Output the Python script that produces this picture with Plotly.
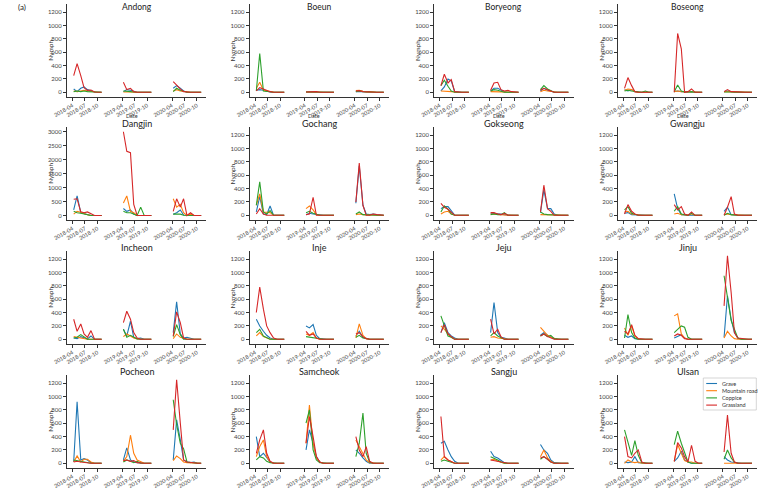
import plotly.graph_objects as go

# ---------------- data ----------------
sites = ["Andong", "Boeun", "Boryeong", "Boseong",
         "Dangjin", "Gochang", "Gokseong", "Gwangju",
         "Incheon", "Inje", "Jeju", "Jinju",
         "Pocheon", "Samcheok", "Sangju", "Ulsan"]
years = ["2018", "2019", "2020"]
sample_days = ["04-10", "05-05", "06-01", "06-25", "07-20", "08-15", "09-10", "10-05", "11-01"]
habitats = ["Grave", "Mountain road", "Coppice", "Grassland"]
tick_months = ["04", "07", "10"]
tick_labels = [f"{y}-{m}" for y in years for m in tick_months]

andong_grave = [50, 10, 60, 80, 40, 20, 5, 0, 0, 10, 40, 30, 10, 0, 0, 0, 0, 0, 60, 100, 60, 20, 5, 0, 0, 0, 0]
andong_mroad = [20, 10, 20, 30, 20, 10, 5, 0, 0, 5, 10, 5, 0, 0, 0, 0, 0, 0, 20, 40, 20, 10, 0, 0, 0, 0, 0]
andong_coppice = [10, 20, 10, 20, 10, 5, 0, 0, 0, 20, 20, 10, 5, 0, 0, 0, 0, 0, 10, 60, 30, 10, 0, 0, 0, 0, 0]
andong_grass = [250, 430, 250, 70, 30, 35, 5, 0, 0, 150, 40, 60, 10, 0, 0, 0, 0, 0, 160, 100, 50, 10, 0, 0, 0, 0, 0]

boeun_grave = [30, 40, 30, 15, 5, 0, 0, 0, 0, 5, 10, 10, 5, 5, 0, 0, 0, 0, 10, 15, 10, 5, 5, 0, 0, 0, 0]
boeun_mroad = [60, 150, 30, 20, 10, 5, 0, 0, 0, 5, 5, 10, 15, 5, 0, 0, 0, 0, 25, 30, 15, 5, 10, 0, 0, 0, 0]
boeun_coppice = [20, 580, 20, 10, 5, 0, 0, 0, 0, 5, 5, 5, 5, 0, 0, 0, 0, 0, 10, 20, 10, 5, 0, 0, 0, 0, 0]
boeun_grass = [20, 70, 50, 30, 10, 0, 0, 0, 0, 5, 10, 5, 10, 0, 0, 0, 0, 0, 20, 25, 10, 5, 5, 0, 0, 0, 0]

boryeong_grave = [20, 80, 200, 170, 10, 0, 0, 0, 0, 20, 60, 60, 30, 10, 0, 0, 0, 0, 20, 60, 30, 10, 0, 0, 0, 0, 0]
boryeong_mroad = [20, 20, 20, 10, 5, 0, 0, 0, 0, 10, 10, 10, 5, 0, 0, 0, 0, 0, 10, 30, 20, 10, 0, 0, 0, 0, 0]
boryeong_coppice = [100, 180, 90, 20, 0, 0, 0, 0, 0, 20, 40, 30, 10, 0, 0, 0, 0, 0, 40, 100, 50, 20, 0, 0, 0, 0, 0]
boryeong_grass = [100, 270, 140, 190, 10, 0, 0, 0, 0, 30, 140, 150, 40, 20, 30, 10, 0, 0, 30, 60, 40, 20, 0, 0, 0, 0, 0]

boseong_grave = [40, 20, 40, 10, 5, 5, 10, 0, 0, 10, 20, 10, 5, 0, 0, 0, 0, 0, 10, 20, 10, 5, 0, 0, 0, 0, 0]
boseong_mroad = [30, 50, 40, 10, 0, 0, 5, 0, 0, 10, 20, 10, 10, 5, 5, 0, 0, 0, 10, 10, 10, 5, 5, 5, 0, 0, 0]
boseong_coppice = [20, 30, 20, 10, 0, 0, 20, 0, 0, 10, 110, 20, 5, 5, 10, 0, 0, 0, 5, 10, 5, 0, 0, 0, 0, 0, 0]
boseong_grass = [60, 220, 100, 10, 0, 0, 10, 0, 0, 0, 880, 650, 0, 10, 50, 0, 0, 0, 10, 40, 10, 5, 0, 0, 0, 0, 0]

dangjin_grave = [200, 700, 100, 60, 20, 0, 0, 0, 0, 250, 150, 200, 50, 0, 0, 0, 0, 0, 50, 100, 200, 20, 10, 0, 0, 0, 0]
dangjin_mroad = [50, 150, 120, 70, 30, 0, 0, 0, 0, 450, 700, 150, 100, 0, 0, 0, 0, 0, 600, 300, 400, 100, 0, 50, 0, 0, 0]
dangjin_coppice = [150, 100, 80, 50, 20, 0, 0, 0, 0, 150, 100, 100, 50, 0, 300, 0, 0, 0, 50, 60, 50, 10, 0, 0, 0, 0, 0]
dangjin_grass = [580, 600, 130, 100, 130, 50, 0, 0, 0, 3000, 2300, 2250, 400, 0, 0, 0, 0, 0, 150, 600, 300, 600, 0, 100, 0, 0, 0]

gochang_grave = [50, 280, 20, 10, 140, 0, 0, 0, 0, 10, 30, 20, 10, 0, 0, 0, 0, 0, 180, 740, 150, 20, 10, 20, 10, 0, 0]
gochang_mroad = [150, 320, 50, 50, 40, 0, 0, 0, 0, 100, 140, 80, 10, 0, 0, 0, 0, 0, 10, 20, 10, 5, 0, 0, 0, 0, 0]
gochang_coppice = [150, 500, 50, 20, 70, 0, 0, 0, 0, 40, 60, 30, 10, 0, 0, 0, 0, 0, 20, 50, 10, 5, 0, 0, 0, 0, 0]
gochang_grass = [20, 100, 20, 0, 0, 0, 0, 0, 0, 10, 20, 270, 0, 0, 0, 0, 0, 0, 200, 780, 150, 0, 0, 20, 10, 0, 0]

gokseong_grave = [100, 130, 130, 60, 5, 0, 0, 0, 0, 30, 30, 20, 20, 10, 0, 0, 0, 0, 40, 380, 100, 100, 20, 0, 0, 0, 0]
gokseong_mroad = [20, 50, 60, 20, 5, 0, 0, 0, 0, 20, 20, 10, 10, 5, 0, 0, 0, 0, 10, 10, 5, 5, 0, 0, 0, 0, 0]
gokseong_coppice = [50, 140, 90, 20, 0, 0, 0, 0, 0, 10, 20, 10, 10, 40, 0, 0, 0, 0, 50, 20, 10, 5, 0, 0, 0, 0, 0]
gokseong_grass = [180, 120, 90, 40, 0, 0, 0, 0, 0, 40, 40, 20, 10, 30, 0, 0, 0, 0, 50, 450, 100, 60, 0, 0, 0, 0, 0]

gwangju_grave = [30, 40, 10, 5, 0, 0, 0, 0, 0, 320, 100, 10, 0, 0, 0, 0, 0, 0, 60, 120, 10, 0, 0, 0, 0, 0, 0]
gwangju_mroad = [50, 60, 20, 10, 0, 0, 0, 0, 0, 20, 30, 10, 10, 5, 20, 0, 0, 0, 10, 20, 10, 5, 0, 0, 0, 0, 0]
gwangju_coppice = [80, 130, 30, 10, 0, 0, 0, 0, 0, 60, 130, 20, 10, 0, 30, 0, 0, 0, 0, 30, 10, 0, 0, 0, 0, 0, 0]
gwangju_grass = [20, 160, 60, 20, 0, 0, 0, 0, 0, 160, 80, 130, 20, 0, 50, 0, 0, 0, 0, 120, 280, 20, 0, 0, 0, 0, 0]

incheon_grave = [20, 10, 40, 20, 5, 50, 0, 0, 0, 150, 50, 270, 30, 10, 20, 0, 0, 0, 100, 560, 80, 20, 30, 10, 0, 0, 0]
incheon_mroad = [40, 30, 10, 10, 0, 0, 0, 0, 0, 40, 80, 50, 20, 5, 0, 0, 0, 0, 10, 80, 30, 10, 0, 0, 0, 0, 0]
incheon_coppice = [20, 30, 70, 30, 0, 0, 0, 0, 0, 150, 30, 60, 30, 5, 0, 0, 0, 0, 40, 220, 70, 0, 0, 0, 0, 0, 0]
incheon_grass = [300, 120, 230, 80, 30, 130, 0, 0, 0, 250, 420, 300, 100, 20, 0, 0, 0, 0, 50, 410, 250, 20, 0, 0, 0, 0, 0]

inje_grave = [300, 200, 120, 60, 20, 0, 0, 0, 0, 200, 170, 220, 60, 10, 0, 0, 0, 0, 50, 120, 30, 10, 0, 0, 0, 0, 0]
inje_mroad = [50, 100, 40, 20, 0, 0, 0, 0, 0, 80, 60, 100, 20, 0, 0, 0, 0, 0, 20, 230, 60, 10, 0, 0, 0, 0, 0]
inje_coppice = [100, 150, 50, 20, 0, 0, 0, 0, 0, 40, 30, 20, 10, 0, 0, 0, 0, 0, 30, 60, 20, 5, 0, 0, 0, 0, 0]
inje_grass = [400, 780, 450, 200, 100, 20, 0, 0, 0, 120, 60, 80, 20, 0, 0, 0, 0, 0, 80, 100, 40, 10, 0, 0, 0, 0, 0]

jeju_grave = [100, 250, 100, 50, 20, 0, 0, 0, 0, 100, 550, 100, 30, 20, 0, 0, 0, 0, 60, 100, 60, 30, 10, 0, 0, 0, 0]
jeju_mroad = [200, 150, 80, 30, 0, 0, 0, 0, 0, 30, 40, 20, 10, 0, 0, 0, 0, 0, 180, 120, 60, 30, 10, 0, 0, 0, 0]
jeju_coppice = [350, 200, 50, 30, 0, 0, 0, 0, 0, 50, 100, 50, 20, 0, 0, 0, 0, 0, 50, 80, 40, 60, 10, 0, 0, 0, 0]
jeju_grass = [100, 220, 80, 40, 0, 0, 0, 0, 0, 300, 80, 150, 40, 0, 0, 0, 0, 0, 50, 80, 40, 20, 0, 0, 0, 0, 0]

jinju_grave = [60, 30, 50, 10, 0, 0, 0, 0, 0, 20, 40, 70, 20, 0, 0, 0, 0, 0, 30, 650, 300, 100, 20, 0, 0, 0, 0]
jinju_mroad = [170, 60, 200, 50, 0, 0, 0, 0, 0, 350, 380, 80, 20, 0, 0, 0, 0, 0, 20, 120, 50, 10, 0, 0, 0, 0, 0]
jinju_coppice = [20, 370, 100, 20, 0, 0, 0, 0, 0, 100, 150, 200, 180, 30, 0, 0, 0, 0, 950, 650, 280, 150, 20, 0, 0, 0, 0]
jinju_grass = [120, 80, 220, 60, 10, 0, 0, 0, 0, 50, 80, 60, 10, 0, 0, 0, 0, 0, 500, 1250, 700, 100, 20, 10, 0, 0, 0]

pocheon_grave = [20, 920, 50, 70, 50, 10, 0, 0, 0, 50, 230, 50, 20, 10, 0, 0, 0, 0, 50, 650, 350, 50, 20, 10, 20, 0, 0]
pocheon_mroad = [20, 110, 20, 60, 60, 20, 0, 0, 0, 30, 100, 420, 150, 50, 20, 0, 0, 0, 40, 110, 70, 20, 10, 10, 0, 0, 0]
pocheon_coppice = [50, 40, 20, 10, 0, 0, 0, 0, 0, 20, 50, 30, 10, 30, 0, 0, 0, 0, 950, 580, 300, 220, 20, 10, 0, 0, 0]
pocheon_grass = [20, 30, 20, 10, 0, 0, 0, 0, 0, 40, 50, 30, 40, 10, 0, 0, 0, 0, 500, 1250, 600, 50, 20, 10, 0, 0, 0]

samcheok_grave = [400, 100, 150, 80, 20, 0, 0, 0, 0, 200, 500, 300, 100, 20, 0, 0, 0, 0, 200, 150, 80, 30, 0, 0, 0, 0, 0]
samcheok_mroad = [100, 250, 350, 100, 20, 0, 0, 0, 0, 300, 870, 300, 80, 20, 0, 0, 0, 0, 350, 250, 150, 50, 10, 0, 0, 0, 0]
samcheok_coppice = [50, 100, 80, 30, 10, 0, 0, 0, 0, 600, 800, 200, 50, 10, 0, 0, 0, 0, 100, 300, 750, 150, 20, 0, 0, 0, 0]
samcheok_grass = [150, 350, 500, 150, 30, 0, 0, 0, 0, 300, 700, 400, 100, 20, 0, 0, 0, 0, 400, 200, 100, 250, 30, 0, 0, 0, 0]

sangju_grave = [300, 330, 200, 100, 30, 0, 0, 0, 0, 180, 100, 80, 40, 10, 0, 0, 0, 0, 280, 200, 150, 50, 10, 0, 0, 0, 0]
sangju_mroad = [50, 100, 50, 20, 0, 0, 0, 0, 0, 50, 60, 30, 10, 0, 0, 0, 0, 0, 100, 200, 80, 30, 0, 0, 0, 0, 0]
sangju_coppice = [30, 50, 30, 10, 0, 0, 0, 0, 0, 100, 80, 50, 20, 0, 0, 0, 0, 0, 60, 100, 60, 20, 0, 0, 0, 0, 0]
sangju_grass = [700, 100, 50, 20, 0, 0, 0, 0, 0, 50, 40, 30, 10, 0, 0, 0, 0, 0, 80, 100, 60, 20, 0, 0, 0, 0, 0]

ulsan_grave = [20, 10, 20, 100, 10, 0, 0, 0, 0, 30, 80, 180, 50, 20, 0, 0, 0, 0, 100, 50, 20, 10, 0, 0, 0, 0, 0]
ulsan_mroad = [0, 50, 20, 10, 20, 0, 0, 0, 0, 30, 280, 150, 40, 20, 20, 0, 0, 0, 0, 0, 0, 0, 0, 0, 0, 0, 0]
ulsan_coppice = [500, 320, 120, 340, 120, 10, 0, 0, 0, 280, 480, 300, 150, 20, 0, 0, 0, 0, 60, 200, 80, 20, 0, 0, 0, 0, 0]
ulsan_grass = [400, 100, 80, 150, 200, 20, 0, 0, 0, 30, 310, 230, 100, 20, 270, 30, 0, 0, 170, 720, 150, 20, 0, 0, 0, 0, 0]

site_series = {
    "Andong": [andong_grave, andong_mroad, andong_coppice, andong_grass],
    "Boeun": [boeun_grave, boeun_mroad, boeun_coppice, boeun_grass],
    "Boryeong": [boryeong_grave, boryeong_mroad, boryeong_coppice, boryeong_grass],
    "Boseong": [boseong_grave, boseong_mroad, boseong_coppice, boseong_grass],
    "Dangjin": [dangjin_grave, dangjin_mroad, dangjin_coppice, dangjin_grass],
    "Gochang": [gochang_grave, gochang_mroad, gochang_coppice, gochang_grass],
    "Gokseong": [gokseong_grave, gokseong_mroad, gokseong_coppice, gokseong_grass],
    "Gwangju": [gwangju_grave, gwangju_mroad, gwangju_coppice, gwangju_grass],
    "Incheon": [incheon_grave, incheon_mroad, incheon_coppice, incheon_grass],
    "Inje": [inje_grave, inje_mroad, inje_coppice, inje_grass],
    "Jeju": [jeju_grave, jeju_mroad, jeju_coppice, jeju_grass],
    "Jinju": [jinju_grave, jinju_mroad, jinju_coppice, jinju_grass],
    "Pocheon": [pocheon_grave, pocheon_mroad, pocheon_coppice, pocheon_grass],
    "Samcheok": [samcheok_grave, samcheok_mroad, samcheok_coppice, samcheok_grass],
    "Sangju": [sangju_grave, sangju_mroad, sangju_coppice, sangju_grass],
    "Ulsan": [ulsan_grave, ulsan_mroad, ulsan_coppice, ulsan_grass],
}

# ---------------- style ----------------
W, H = 773, 491
colors = ["#1f77b4", "#ff7f0e", "#2ca02c", "#d62728"]
FONT = "Lato, Open Sans, DejaVu Sans, sans-serif"
col_left = [54, 240, 428, 615]
plot_w = 142
row_top = [4, 127, 251, 375]
plot_h = 93

# x values with breaks between seasons
x_vals = []
for y in years:
    x_vals += [f"{y}-{d}" for d in sample_days] + [None]


def with_gaps(vals):
    out = []
    n = len(sample_days)
    for i in range(len(years)):
        out += vals[i * n:(i + 1) * n] + [None]
    return out


fig = go.Figure()
annotations = []
shapes = []
for k, site in enumerate(sites):
    r, c = divmod(k, 4)
    ax = "" if k == 0 else str(k + 1)
    xd = [col_left[c] / W, (col_left[c] + plot_w) / W]
    yd = [1 - (row_top[r] + plot_h) / H, 1 - row_top[r] / H]
    big = site == "Dangjin"
    for j, hab in enumerate(habitats):
        fig.add_trace(go.Scatter(
            x=x_vals, y=with_gaps(site_series[site][j]), mode="lines",
            line=dict(color=colors[j], width=1.1), name=hab,
            showlegend=False, connectgaps=False,
            xaxis="x" + ax, yaxis="y" + ax,
        ))
    fig.layout["xaxis" + ax] = dict(
        domain=xd, anchor="y" + ax, type="date",
        range=["2018-02-20", "2020-12-10"],
        tickvals=[f"{y}-{m}-01" for y in years for m in tick_months],
        ticktext=tick_labels, tickangle=-30,
        tickfont=dict(size=5.5, color="#444", family=FONT),
        showgrid=False, zeroline=False, showline=True, linecolor="#333",
        linewidth=1, ticks="outside", ticklen=2.5, tickcolor="#333",
    )
    fig.layout["yaxis" + ax] = dict(
        domain=yd, anchor="x" + ax,
        range=[-160, 3170] if big else [-70, 1320],
        tickvals=list(range(0, 3001, 500)) if big else list(range(0, 1201, 200)),
        tickfont=dict(size=6, color="#444", family=FONT),
        showgrid=False, zeroline=False, showline=True, linecolor="#333",
        linewidth=1, ticks="outside", ticklen=3, tickcolor="#333",
    )
    # panel title
    if r == 0:
        annotations.append(dict(
            text=site, xref="paper", yref="paper",
            x=(col_left[c] + plot_w / 2) / W, y=1.0,
            xanchor="center", yanchor="top", showarrow=False,
            font=dict(size=8.5, color="#222", family=FONT),
        ))
    else:
        annotations.append(dict(
            text=site, xref="paper", yref="paper",
            x=(col_left[c] + plot_w / 2) / W, y=yd[1], yshift=-4,
            xanchor="center", yanchor="bottom", showarrow=False,
            font=dict(size=9, color="#222", family=FONT),
        ))
    # y title
    annotations.append(dict(
        text="Nymph", xref="paper", yref="paper",
        x=(col_left[c] - 17) / W, y=(yd[0] + yd[1]) / 2,
        xanchor="center", yanchor="middle", textangle=-90, showarrow=False,
        font=dict(size=6.5, color="#333", family=FONT),
    ))
    if r == 0:
        annotations.append(dict(
            text="Date", xref="paper", yref="paper",
            x=(col_left[c] + plot_w / 2 - 5) / W, y=1 - 115.5 / H,
            xanchor="center", yanchor="middle", showarrow=False,
            font=dict(size=5.5, color="#333", family=FONT),
        ))

annotations.append(dict(
    text="(a)", xref="paper", yref="paper", x=0.002, y=1.0,
    xanchor="left", yanchor="top", showarrow=False,
    font=dict(size=8, color="#222", family=FONT),
))

# compact legend inside the Ulsan panel
leg_x0, leg_x1, leg_y0, leg_y1 = 702, 756, 378, 410
shapes.append(dict(type="rect", xref="paper", yref="paper",
                   x0=leg_x0 / W, x1=leg_x1 / W, y0=1 - leg_y1 / H, y1=1 - leg_y0 / H,
                   line=dict(color="#bbb", width=0.6), fillcolor="rgba(255,255,255,0.9)"))
for j, hab in enumerate(habitats):
    yy = leg_y0 + 5.5 + j * 7.2
    shapes.append(dict(type="line", xref="paper", yref="paper",
                       x0=(leg_x0 + 3) / W, x1=(leg_x0 + 14) / W,
                       y0=1 - yy / H, y1=1 - yy / H,
                       line=dict(color=colors[j], width=1.1)))
    annotations.append(dict(
        text=hab, xref="paper", yref="paper", x=(leg_x0 + 17) / W, y=1 - yy / H,
        xanchor="left", yanchor="middle", showarrow=False,
        font=dict(size=5.5, color="#333", family=FONT),
    ))

fig.update_layout(
    width=W, height=H, margin=dict(l=0, r=0, t=0, b=0),
    paper_bgcolor="white", plot_bgcolor="white",
    font=dict(family=FONT, size=7, color="#333"),
    annotations=annotations, shapes=shapes, showlegend=False,
)

fig.write_html("out.html")
